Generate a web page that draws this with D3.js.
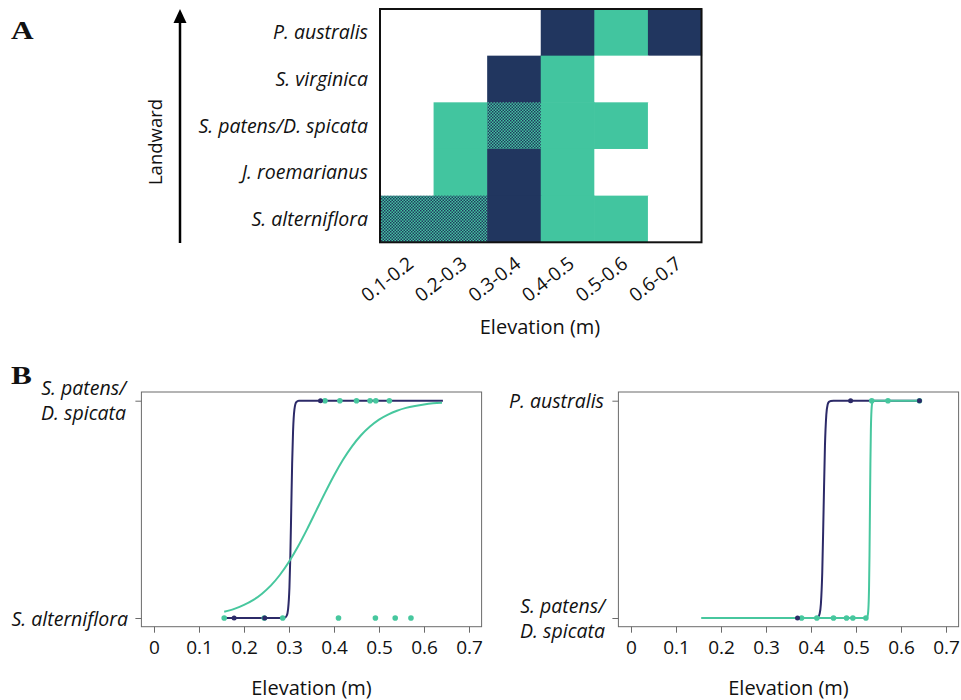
<!DOCTYPE html>
<html>
<head>
<meta charset="utf-8">
<script src="https://cdn.jsdelivr.net/npm/d3@7"></script>
<style>
  html, body { margin: 0; padding: 0; background: #fff; }
  svg { display: block; }
  text { font-family: "Open Sans", Lato, sans-serif; fill: #111; }
</style>
</head>
<body>
<svg id="fig" width="961" height="700"></svg>
<script>
// ---------- Panel A: occurrence by elevation band ----------
const elevationBins = ["0.1-0.2", "0.2-0.3", "0.3-0.4", "0.4-0.5", "0.5-0.6", "0.6-0.7"];
// top (landward) to bottom (seaward)
const speciesRows = ["P. australis", "S. virginica", "S. patens/D. spicata", "J. roemarianus", "S. alterniflora"];
// 0 = absent, 1 = dark group, 2 = light group, 3 = both groups
const occPAustralis   = [0, 0, 0, 1, 2, 1];
const occSVirginica   = [0, 0, 1, 2, 0, 0];
const occSPatens      = [0, 2, 3, 2, 2, 0];
const occJRoemarianus = [0, 2, 1, 2, 0, 0];
const occSAlterniflora= [3, 3, 1, 2, 2, 0];
const occurrenceRows = [occPAustralis, occSVirginica, occSPatens, occJRoemarianus, occSAlterniflora];

// ---------- Panel B: fitted transition curves and observations ----------
const elevationTicks = [0, 0.1, 0.2, 0.3, 0.4, 0.5, 0.6, 0.7];

// left: S. alterniflora (0) -> S. patens/D. spicata (1)
const leftDarkCurveX = [0.156, 0.280, 0.290, 0.295, 0.298, 0.301, 0.303, 0.305, 0.307, 0.309, 0.312, 0.316, 0.322, 0.335, 0.642];
const leftDarkCurveP = [0, 0, 0.001, 0.011, 0.041, 0.142, 0.289, 0.5, 0.711, 0.858, 0.959, 0.993, 0.9995, 1, 1];
const leftLightCurveX = [0.156, 0.18, 0.20, 0.22, 0.24, 0.26, 0.28, 0.30, 0.32, 0.34, 0.36, 0.38, 0.40, 0.42, 0.44, 0.46, 0.48, 0.50, 0.52, 0.54, 0.56, 0.58, 0.60, 0.62, 0.64];
const leftLightCurveP = [0.029, 0.043, 0.060, 0.082, 0.112, 0.150, 0.199, 0.259, 0.329, 0.408, 0.492, 0.576, 0.656, 0.728, 0.790, 0.841, 0.881, 0.913, 0.936, 0.954, 0.967, 0.976, 0.983, 0.988, 0.991];
const leftDarkLow   = [0.178, 0.246];
const leftDarkHigh  = [0.370];
const leftLightLow  = [0.156, 0.245, 0.286, 0.410, 0.492, 0.536, 0.571];
const leftLightHigh = [0.380, 0.413, 0.450, 0.480, 0.493, 0.523];

// right: S. patens/D. spicata (0) -> P. australis (1)
const rightDarkCurveX = [0.370, 0.405, 0.412, 0.416, 0.419, 0.422, 0.425, 0.428, 0.431, 0.434, 0.437, 0.440, 0.444, 0.450, 0.641];
const rightDarkCurveP = [0, 0, 0.001, 0.005, 0.018, 0.065, 0.208, 0.5, 0.792, 0.935, 0.982, 0.995, 0.999, 1, 1];
const rightLightCurveX = [0.156, 0.520, 0.524, 0.526, 0.528, 0.529, 0.530, 0.531, 0.532, 0.533, 0.534, 0.536, 0.538, 0.541, 0.641];
const rightLightCurveP = [0, 0, 0.002, 0.011, 0.063, 0.142, 0.289, 0.5, 0.711, 0.858, 0.937, 0.989, 0.998, 1, 1];
const rightDarkLow   = [0.370];
const rightDarkHigh  = [0.488, 0.641];
const rightLightLow  = [0.379, 0.413, 0.450, 0.479, 0.493, 0.522];
const rightLightHigh = [0.535, 0.571, 0.641];

// ---------- drawing ----------
const heatDark = "#21365f", heatLight = "#42c59f";
const lineDark = "#2c2a68", lineLight = "#47c79e";
const frameGrey = "#6b6b6b";
const serif = "'Liberation Serif', 'DejaVu Serif', serif";

const svg = d3.select("#fig");
const defs = svg.append("defs");
const pat = defs.append("pattern").attr("id", "checker")
  .attr("width", 3).attr("height", 3).attr("patternUnits", "userSpaceOnUse");
pat.append("rect").attr("width", 3).attr("height", 3).attr("fill", heatLight);
pat.append("rect").attr("x", 0).attr("y", 0).attr("width", 1.5).attr("height", 1.5).attr("fill", heatDark);
pat.append("rect").attr("x", 1.5).attr("y", 1.5).attr("width", 1.5).attr("height", 1.5).attr("fill", heatDark);

// panel letters
[["A", 39], ["B", 384]].forEach(([s, yy]) => {
  svg.append("text").attr("transform", `translate(11,${yy}) scale(1.25,1)`)
    .style("font-family", serif).style("font-weight", "bold").style("font-size", "25px").text(s);
});

// heat map
const hx = d3.scaleBand().domain(elevationBins).range([380, 701.5]);
const hy = d3.scaleBand().domain(speciesRows).range([9, 242.3]);
const fillFor = c => c === 1 ? heatDark : c === 2 ? heatLight : c === 3 ? "url(#checker)" : "#fff";

const heat = svg.append("g");
speciesRows.forEach((sp, i) => {
  heat.selectAll(null).data(occurrenceRows[i]).enter().append("rect")
    .attr("x", (d, j) => hx(elevationBins[j]))
    .attr("y", hy(sp))
    .attr("width", hx.bandwidth() + 0.6)
    .attr("height", hy.bandwidth() + 0.6)
    .attr("fill", d => fillFor(d));
});
heat.append("rect").attr("x", 380).attr("y", 9)
  .attr("width", 321.5).attr("height", 233.3)
  .attr("fill", "none").attr("stroke", "#111").attr("stroke-width", 2);

// species labels
svg.append("g").selectAll("text").data(speciesRows).enter().append("text")
  .attr("x", 368).attr("y", d => hy(d) + hy.bandwidth() / 2 + 7)
  .attr("text-anchor", "end").style("font-style", "italic").style("font-size", "19.5px")
  .text(d => d);

// rotated elevation band labels
svg.append("g").selectAll("text").data(elevationBins).enter().append("text")
  .attr("transform", d => `translate(${hx(d) + hx.bandwidth() / 2 + 8},${266}) rotate(-38)`)
  .attr("text-anchor", "end").style("font-size", "19px")
  .text(d => d);

svg.append("text").attr("x", 540).attr("y", 334).attr("text-anchor", "middle")
  .style("font-size", "20px").text("Elevation (m)");

// landward arrow
svg.append("line").attr("x1", 180).attr("x2", 180).attr("y1", 243).attr("y2", 20)
  .attr("stroke", "#000").attr("stroke-width", 2.5);
svg.append("path").attr("d", "M180,9 L186.5,23 L173.5,23 Z").attr("fill", "#000");
svg.append("text").attr("transform", "translate(162,142) rotate(-90)")
  .attr("text-anchor", "middle").style("font-size", "18.5px").text("Landward");

// ---------- panel B helper ----------
function transitionPanel(opt) {
  const x = d3.scaleLinear().domain([-0.028, 0.728]).range(opt.xr);
  const y = d3.scaleLinear().domain([-0.04, 1.04]).range([626.7, 392]);
  const g = svg.append("g");

  g.append("rect").attr("x", opt.xr[0]).attr("y", 392)
    .attr("width", opt.xr[1] - opt.xr[0]).attr("height", 626.7 - 392)
    .attr("fill", "none").attr("stroke", frameGrey).attr("stroke-width", 1);

  const xAxis = g.append("g").attr("transform", "translate(0,626.7)")
    .call(d3.axisBottom(x).tickValues(elevationTicks).tickSize(6).tickPadding(8)
      .tickFormat(d => d === 0 ? "0" : d3.format(".1f")(d)));
  xAxis.select(".domain").remove();
  xAxis.selectAll("line").attr("stroke", frameGrey);
  xAxis.selectAll("text").style("font-family", "'Open Sans', Lato, sans-serif")
    .style("font-size", "19px").attr("fill", "#111");

  const yAxis = g.append("g").attr("transform", `translate(${opt.xr[0]},0)`)
    .call(d3.axisLeft(y).tickValues([0, 1]).tickSize(6).tickFormat(""));
  yAxis.select(".domain").remove();
  yAxis.selectAll("line").attr("stroke", frameGrey);

  opt.labels.forEach(l => {
    const t = g.append("text").attr("text-anchor", "end")
      .style("font-style", "italic").style("font-size", "19.5px");
    l.lines.forEach((s, k) => t.append("tspan").attr("x", l.x).attr("y", l.y + k * 25).text(s));
  });

  const line = d3.line().x(d => x(d[0])).y(d => y(d[1])).curve(d3.curveMonotoneX);
  g.append("path").datum(d3.zip(opt.darkX, opt.darkP)).attr("d", line)
    .attr("fill", "none").attr("stroke", lineDark).attr("stroke-width", 2);
  g.append("path").datum(d3.zip(opt.lightX, opt.lightP)).attr("d", line)
    .attr("fill", "none").attr("stroke", lineLight).attr("stroke-width", 2);

  const dots = (vals, p, col, r) => g.append("g").selectAll("circle").data(vals).enter()
    .append("circle").attr("cx", d => x(d)).attr("cy", y(p)).attr("r", r).attr("fill", col);
  dots(opt.lightLow, 0, lineLight, 2.8);
  dots(opt.lightHigh, 1, lineLight, 2.8);
  dots(opt.darkLow, 0, lineDark, 2.5);
  dots(opt.darkHigh, 1, lineDark, 2.5);

  g.append("text").attr("x", (opt.xr[0] + opt.xr[1]) / 2).attr("y", 695)
    .attr("text-anchor", "middle").style("font-size", "20px").text("Elevation (m)");
}

transitionPanel({
  xr: [141.4, 481.6],
  darkX: leftDarkCurveX, darkP: leftDarkCurveP,
  lightX: leftLightCurveX, lightP: leftLightCurveP,
  darkLow: leftDarkLow, darkHigh: leftDarkHigh,
  lightLow: leftLightLow, lightHigh: leftLightHigh,
  labels: [
    { x: 126, y: 395, lines: ["S. patens/", "D. spicata"] },
    { x: 128, y: 626, lines: ["S. alterniflora"] }
  ]
});

transitionPanel({
  xr: [618.4, 958.6],
  darkX: rightDarkCurveX, darkP: rightDarkCurveP,
  lightX: rightLightCurveX, lightP: rightLightCurveP,
  darkLow: rightDarkLow, darkHigh: rightDarkHigh,
  lightLow: rightLightLow, lightHigh: rightLightHigh,
  labels: [
    { x: 604, y: 408, lines: ["P. australis"] },
    { x: 605, y: 613, lines: ["S. patens/", "D. spicata"] }
  ]
});
</script>
</body>
</html>
